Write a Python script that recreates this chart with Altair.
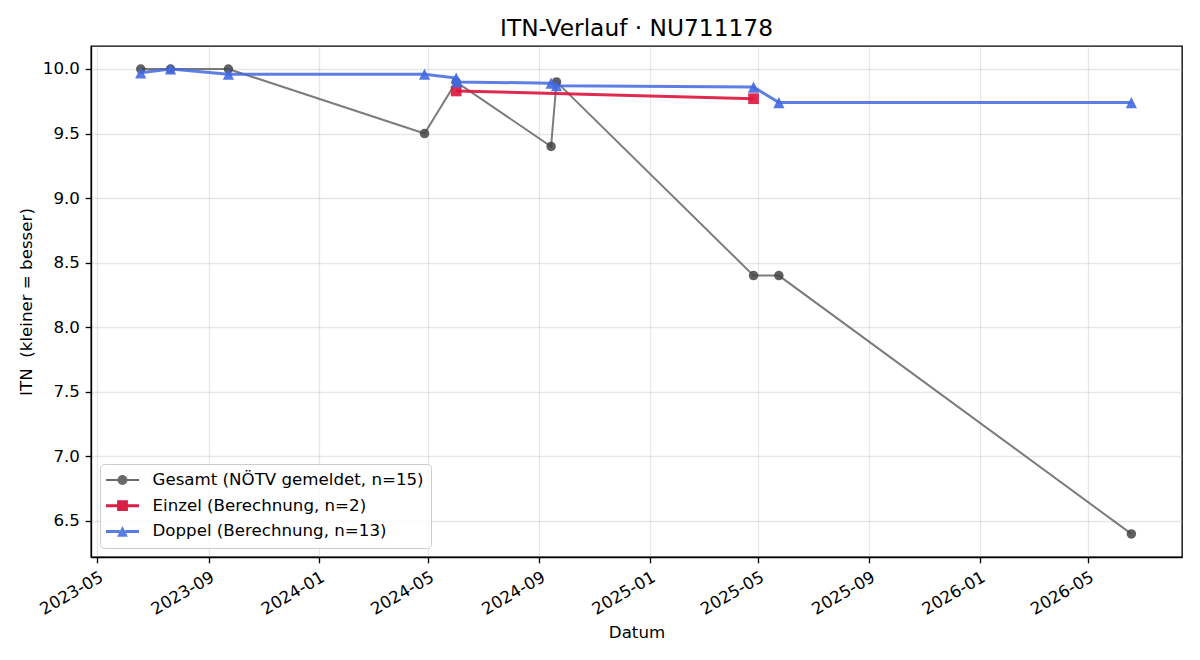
import altair as alt
import pandas as pd

# ---- data ----
serien = [
    "Gesamt (NÖTV gemeldet, n=15)",
    "Einzel (Berechnung, n=2)",
    "Doppel (Berechnung, n=13)",
]

gesamt_datum = ["2023-06-18", "2023-07-21", "2023-09-23", "2024-04-27", "2024-06-01",
                "2024-09-14", "2024-09-20", "2025-04-26", "2025-05-24", "2026-06-18"]
gesamt_itn = [10.0, 10.0, 10.0, 9.5, 9.9, 9.4, 9.9, 8.4, 8.4, 6.4]

einzel_datum = ["2024-06-01", "2025-04-26"]
einzel_itn = [9.83, 9.77]

doppel_datum = ["2023-06-18", "2023-07-21", "2023-09-23", "2024-04-27", "2024-06-01",
                "2024-06-02", "2024-09-14", "2024-09-20", "2025-04-26", "2025-05-24",
                "2026-06-18"]
doppel_itn = [9.97, 10.0, 9.96, 9.96, 9.93, 9.90, 9.89, 9.87, 9.86, 9.74, 9.74]

x_ticks = [(2023, 5), (2023, 9), (2024, 1), (2024, 5), (2024, 9), (2025, 1),
           (2025, 5), (2025, 9), (2026, 1), (2026, 5)]
y_ticks = [6.5, 7.0, 7.5, 8.0, 8.5, 9.0, 9.5, 10.0]

rows = []
for name, dates, vals in [(serien[0], gesamt_datum, gesamt_itn),
                          (serien[1], einzel_datum, einzel_itn),
                          (serien[2], doppel_datum, doppel_itn)]:
    for d, v in zip(dates, vals):
        rows.append({"datum": d, "itn": v, "serie": name})
df = pd.DataFrame(rows)

FONT = "DejaVu Sans"

x_enc = alt.X(
    "datum:T",
    scale=alt.Scale(domain=[alt.DateTime(year=2023, month=4, date=24),
                            alt.DateTime(year=2026, month=8, date=13)]),
    axis=alt.Axis(
        values=[alt.DateTime(year=y, month=m, date=1) for y, m in x_ticks],
        format="%Y-%m", labelAngle=-30, labelAlign="right", labelBaseline="top",
        labelOverlap=False, labelFlush=False, title="Datum",
    ),
)
y_enc = alt.Y(
    "itn:Q",
    scale=alt.Scale(domain=[6.221, 10.178], nice=False, zero=False),
    axis=alt.Axis(values=y_ticks, format=".1f", title="ITN\u00a0 (kleiner = besser)"),
)

tri = "M0,-1L1,1L-1,1Z"
styles = [
    dict(color="#444444", lw=2.0, lop=0.7, pop=0.85, shape="circle", size=90),
    dict(color="#DC143C", lw=3.0, lop=0.9, pop=0.9, shape="square", size=115),
    dict(color="#4169E1", lw=3.0, lop=0.85, pop=0.9, shape=tri, size=125),
]

layers = []
for name, st in zip(serien, styles):
    base = alt.Chart(df).transform_filter(alt.datum.serie == name)
    layers.append(base.mark_line(color=st["color"], strokeWidth=st["lw"],
                                 opacity=st["lop"]).encode(x=x_enc, y=y_enc))
    layers.append(base.mark_point(filled=True, shape=st["shape"], size=st["size"],
                                  color=st["color"], opacity=st["pop"],
                                  strokeWidth=0).encode(x=x_enc, y=y_enc))

# legend symbols: line with marker (unit = 9 px, line spans 33 px)
def bars(h, g):
    return (f"M-1.833,{-h}L{-g},{-h}L{-g},{h}L-1.833,{h}Z"
            f"M{g},{-h}L1.833,{-h}L1.833,{h}L{g},{h}Z")

legend_paths = [
    bars(0.111, 0.54) + "M0.55,0A0.55,0.55 0 1,1 -0.55,0A0.55,0.55 0 1,1 0.55,0Z",
    bars(0.167, 0.58) + "M-0.6,-0.6L0.6,-0.6L0.6,0.6L-0.6,0.6Z",
    bars(0.167, 0.3) + "M0,-0.6L0.6,0.6L-0.6,0.6Z",
]
legend_colors = ["#6a6a6a", "#d81f45", "#5a7de4"]

leg = alt.Legend(title=None, orient="none", legendX=9, legendY=418,
                 labelFont=FONT, labelFontSize=16.67, labelColor="black",
                 labelLimit=500, symbolSize=324, symbolStrokeWidth=0,
                 symbolOffset=6.5, labelOffset=21,
                 rowPadding=7.7, padding=7, fillColor="rgba(255,255,255,0.8)",
                 strokeColor="#cccccc", cornerRadius=4, symbolOpacity=1)

legend_layer = alt.Chart(df).transform_filter("false").mark_point(
    filled=True, opacity=1).encode(
    color=alt.Color("serie:N", scale=alt.Scale(domain=serien, range=legend_colors),
                    legend=leg),
    shape=alt.Shape("serie:N", scale=alt.Scale(domain=serien, range=legend_paths),
                    legend=leg),
)
layers.append(legend_layer)

chart = alt.layer(*layers).properties(
    width=1091, height=511,
    autosize="none",
    padding={"left": 91, "top": 46, "right": 18, "bottom": 103},
    title=alt.TitleParams("ITN-Verlauf · NU711178", fontSize=23.3, font=FONT,
                          fontWeight="normal", color="black", anchor="middle",
                          baseline="bottom", offset=4.5, dy=23),
).configure(
    font=FONT
).configure_view(
    stroke="black", strokeWidth=1.33
).configure_axis(
    labelFont=FONT, labelFontSize=16.67, labelColor="black",
    titleFont=FONT, titleFontSize=16.67, titleColor="black", titleFontWeight="normal",
    domainColor="black", domainWidth=1.33,
    tickColor="black", tickWidth=1.33, tickSize=5.8, labelPadding=5.8,
    gridColor="#b0b0b0", gridOpacity=0.3, gridWidth=1.3, titlePadding=7,
)

chart.save("out.html", embed_options={"renderer": "svg", "actions": False})
